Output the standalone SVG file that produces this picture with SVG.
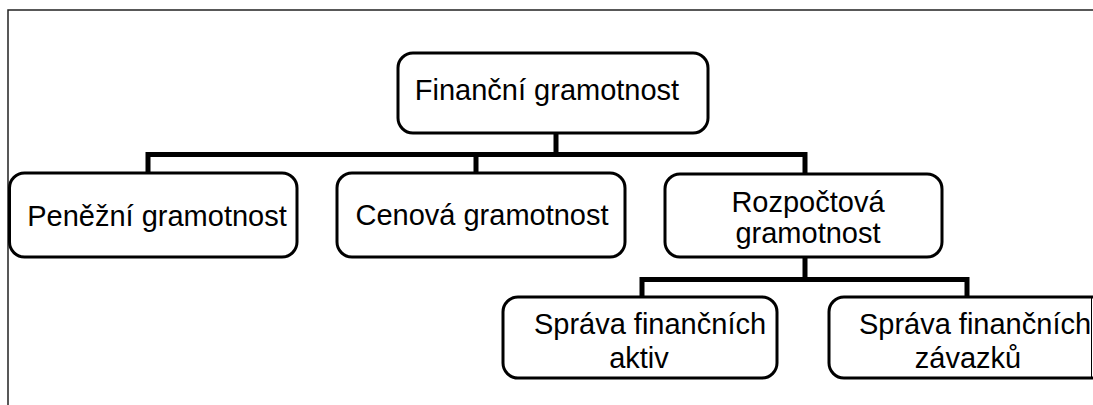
<svg xmlns="http://www.w3.org/2000/svg" width="1093" height="405" viewBox="0 0 1093 405">
<style>
.box{fill:#fff;stroke:#000;stroke-width:3}
.lbl{font-family:"Liberation Sans",Arial,sans-serif;font-size:29px;fill:#000;text-anchor:middle}
.bar{fill:none;stroke:#000;stroke-width:5;stroke-linecap:square}
.frame{fill:none;stroke:#222;stroke-width:1.5}
</style>
<rect width="1093" height="405" fill="#fff"/>
<g id="frame"><path class="frame" d="M8,405 V10 H1093"/></g>
<g id="connectors">
<path class="bar" d="M556,135 V154.5 M148,172 V154.5 H805 V172 M476,154.5 V172"/>
<path class="bar" d="M805,259 V279.5 M642,296 V279.5 H967 V296"/>
</g>
<g id="n-financni">
<rect class="box" x="398" y="53" width="310" height="80" rx="15"/>
<text class="lbl" x="547" y="100">Finanční gramotnost</text>
</g>
<g id="n-penezni">
<rect class="box" x="9.5" y="173" width="287.5" height="84" rx="15"/>
<text class="lbl" x="157" y="226">Peněžní gramotnost</text>
</g>
<g id="n-cenova">
<rect class="box" x="337" y="173" width="288" height="84" rx="15"/>
<text class="lbl" x="482" y="225">Cenová gramotnost</text>
</g>
<g id="n-rozpoctova">
<rect class="box" x="665" y="174" width="277" height="83" rx="15"/>
<text class="lbl" x="808" y="212">Rozpočtová</text>
<text class="lbl" x="808" y="243">gramotnost</text>
</g>
<g id="n-aktiv">
<rect class="box" x="503" y="297" width="274" height="81" rx="15"/>
<text class="lbl" x="650" y="334">Správa finančních</text>
<text class="lbl" x="639" y="368">aktiv</text>
</g>
<g id="n-zavazku">
<path class="box" d="M1093,297 H844 A15,15 0 0 0 829,312 V363 A15,15 0 0 0 844,378 H1093"/>
<line x1="1091.5" y1="297" x2="1091.5" y2="378" stroke="#000" stroke-width="1"/>
<text class="lbl" x="975" y="334">Správa finančních</text>
<text class="lbl" x="968" y="368">závazků</text>
</g>
</svg>
